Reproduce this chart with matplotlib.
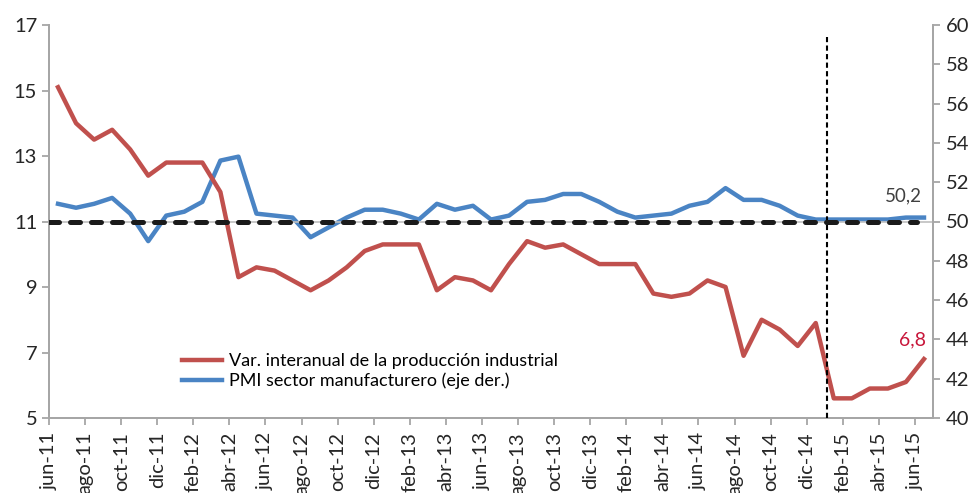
import numpy as np
import matplotlib
matplotlib.use('Agg')
import matplotlib.pyplot as plt
import matplotlib.transforms as mtransforms

plt.rcParams['font.family'] = ['Lato', 'DejaVu Sans']

# Datos (jun-11 a jun-15, mensual)
nombres_mes = ['ene', 'feb', 'mar', 'abr', 'may', 'jun',
               'jul', 'ago', 'sep', 'oct', 'nov', 'dic']

produccion = [15.1, 14.0, 13.5, 13.8, 13.2, 12.4, 12.8, 12.8, 12.8, 11.9,
              9.3, 9.6, 9.5, 9.2, 8.9, 9.2, 9.6, 10.1, 10.3, 10.3,
              10.3, 8.9, 9.3, 9.2, 8.9, 9.7, 10.4, 10.2, 10.3, 10.0,
              9.7, 9.7, 9.7, 8.8, 8.7, 8.8, 9.2, 9.0, 6.9, 8.0,
              7.7, 7.2, 7.9, 5.6, 5.6, 5.9, 5.9, 6.1, 6.8]

pmi = [50.9, 50.7, 50.9, 51.2, 50.4, 49.0, 50.3, 50.5, 51.0, 53.1,
       53.3, 50.4, 50.3, 50.2, 49.2, 49.7, 50.2, 50.6, 50.6, 50.4,
       50.1, 50.9, 50.6, 50.8, 50.1, 50.3, 51.0, 51.1, 51.4, 51.4,
       51.0, 50.5, 50.2, 50.3, 50.4, 50.8, 51.0, 51.7, 51.1, 51.1,
       50.8, 50.3, 50.1, 50.1, 50.1, 50.1, 50.1, 50.2, 50.2]

n_meses = len(produccion)
# etiquetas: mes-año empezando en junio de 2011
etiquetas = []
for i in range(n_meses):
    k = 5 + i
    etiquetas.append(f'{nombres_mes[k % 12]}-{(11 + k // 12):02d}')

color_rojo = '#C0504D'
color_azul = '#4A84C4'
color_gris = '#A6A6A6'
color_texto = '#262626'

x = np.arange(n_meses)

fig = plt.figure(figsize=(9.77, 4.93), dpi=100)
ax1 = fig.add_axes([49 / 977, 1 - 418 / 493, 884 / 977, 393 / 493])
ax2 = ax1.twinx()

# Linea de referencia (50 en PMI = 11 en eje izq.)
ax1.axhline(11, color='#BFBFBF', lw=1.2, zorder=1)
ax1.axhline(11, xmin=0, xmax=(917 - 49) / 884, color='#1a1a1a', lw=3.6,
            linestyle=(0, (2.0, 2.2)), dash_capstyle='round', zorder=5)

l1, = ax1.plot(x, produccion, color=color_rojo, lw=3.2, zorder=3,
               label='Var. interanual de la producción industrial')
l2, = ax2.plot(x, pmi, color=color_azul, lw=3.2, zorder=3,
               label='PMI sector manufacturero (eje der.)')

# Linea vertical punteada
ax1.axvline(42.6, ymin=0, ymax=(16.63 - 5) / 12, color='black', lw=1.5,
            linestyle=(0, (2.5, 1.6)), zorder=4)

ax1.set_xlim(-0.5, n_meses - 0.5)
ax1.set_ylim(5, 17)
ax2.set_ylim(40, 60)
ax1.set_yticks(np.arange(5, 18, 2))
ax2.set_yticks(np.arange(40, 61, 2))

# ticks del eje x entre categorias, etiquetas cada 2 meses
ax1.set_xticks(np.arange(-0.5, n_meses, 2))
ax1.set_xticklabels(etiquetas[::2], rotation=90, color=color_texto)
desplaz = mtransforms.ScaledTranslation(3 / 100, 0, fig.dpi_scale_trans)
for lab in ax1.get_xticklabels():
    lab.set_transform(lab.get_transform() + desplaz)

for ax in (ax1, ax2):
    for s in ax.spines.values():
        s.set_color(color_gris)
        s.set_linewidth(1.3)
    ax.spines['top'].set_visible(False)
    ax.tick_params(colors=color_gris, labelcolor=color_texto, labelsize=14.5,
                   length=5, width=1.3)
ax1.tick_params(axis='x', labelsize=14.5, pad=5)
ax2.tick_params(axis='y', pad=4)

ax2.text(x[-1] - 0.1, 50.2 + 1.1, '50,2', ha='right', va='center',
         fontsize=13.5, color='#404040')
ax1.text(x[-1] + 0.1, 6.8 + 0.6, '6,8', ha='right', va='center',
         fontsize=14, color='#C8163A')

ax1.legend(handles=[l1, l2], loc='upper left', bbox_to_anchor=(0.151, 0.165),
           frameon=False, fontsize=13, handlelength=2.2, handletextpad=0.35,
           labelspacing=0.18, borderpad=0, borderaxespad=0)

ax1.set_zorder(ax2.get_zorder() + 1)
ax1.patch.set_visible(False)

fig.savefig('out.png', dpi=100)
